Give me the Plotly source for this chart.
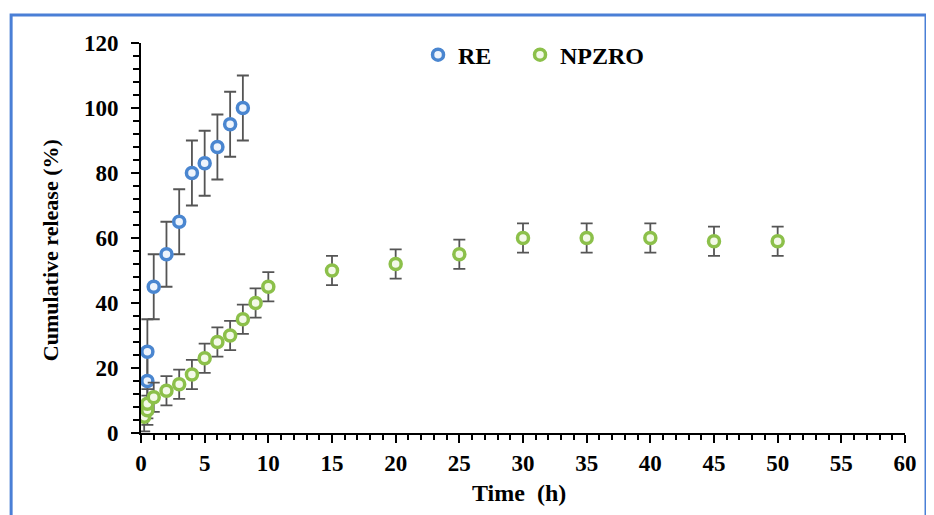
import plotly.graph_objects as go

# RE series
re_time = [0.5, 0.5, 1, 2, 3, 4, 5, 6, 7, 8]
re_release = [16, 25, 45, 55, 65, 80, 83, 88, 95, 100]
re_err = [10, 10, 10, 10, 10, 10, 10, 10, 10, 10]

# NPZRO series
np_time = [0.25, 0.5, 0.5, 1, 2, 3, 4, 5, 6, 7, 8, 9, 10, 15, 20, 25, 30, 35, 40, 45, 50]
np_release = [5, 7, 9, 11, 13, 15, 18, 23, 28, 30, 35, 40, 45, 50, 52, 55, 60, 60, 60, 59, 59]
np_err = [4.5] * 21

x_ticks = list(range(0, 61, 5))
y_ticks = list(range(0, 121, 20))

font_family = "Liberation Serif"
err_color = "#555555"

fig = go.Figure()
fig.add_trace(go.Scatter(
    x=re_time, y=re_release, mode="markers", name="RE", legend="legend",
    marker=dict(symbol="circle", size=11, color="#eef4fc",
                line=dict(color="#4a86d0", width=3.5)),
    error_y=dict(type="data", array=re_err, color=err_color, thickness=1.8, width=6),
))
fig.add_trace(go.Scatter(
    x=np_time, y=np_release, mode="markers", name="NPZRO", legend="legend2",
    marker=dict(symbol="circle", size=11, color="#f3f9e8",
                line=dict(color="#8cc04a", width=3.5)),
    error_y=dict(type="data", array=np_err, color=err_color, thickness=1.8, width=6),
))

axis_common = dict(
    showline=True, linecolor="black", linewidth=2, showgrid=False, zeroline=False,
    ticks="outside", tickcolor="black", tickwidth=2, ticklen=8,
    tickfont=dict(family=font_family, size=23, color="black", weight="bold"),
)

fig.update_xaxes(range=[0, 60], tickvals=x_ticks, ticktext=[str(v) for v in x_ticks],
                 minor=dict(dtick=1, tick0=0, ticks="outside", ticklen=5, tickwidth=1.5, tickcolor="black"),
                 **axis_common)
fig.update_yaxes(range=[0, 120], tickvals=y_ticks, ticktext=[str(v) for v in y_ticks],
                 ticklabelstandoff=8,
                 minor=dict(dtick=4, tick0=0, ticks="outside", ticklen=6, tickwidth=1.5, tickcolor="black"),
                 **axis_common)

legend_font = dict(family=font_family, size=24, color="black", weight="bold")
fig.update_layout(
    width=934, height=515,
    margin=dict(l=133, r=37, t=35, b=90),
    paper_bgcolor="white", plot_bgcolor="white",
    showlegend=True,
    legend=dict(orientation="h", x=0.3626, y=0.969, xanchor="left", yanchor="middle",
                font=legend_font, bgcolor="rgba(0,0,0,0)"),
    legend2=dict(orientation="h", x=0.4961, y=0.969, xanchor="left", yanchor="middle",
                 font=legend_font, bgcolor="rgba(0,0,0,0)"),
    annotations=[
        dict(text="Cumulative release (%)", xref="paper", yref="paper", x=-0.119, y=0.469,
             textangle=-90, showarrow=False, xanchor="center", yanchor="middle",
             font=dict(family=font_family, size=22, color="black", weight="bold")),
        dict(text="Time  (h)", xref="paper", yref="paper", x=0.495, y=-0.154,
             showarrow=False, xanchor="center", yanchor="middle",
             font=dict(family=font_family, size=24, color="black", weight="bold")),
    ],
    shapes=[
        dict(type="rect", xref="paper", yref="paper", x0=-0.170, x1=1.0275, y0=-0.25, y1=1.0718,
             line=dict(color="#4a7fd6", width=3), fillcolor="rgba(0,0,0,0)", layer="below"),
    ],
)

fig.write_html("out.html")
